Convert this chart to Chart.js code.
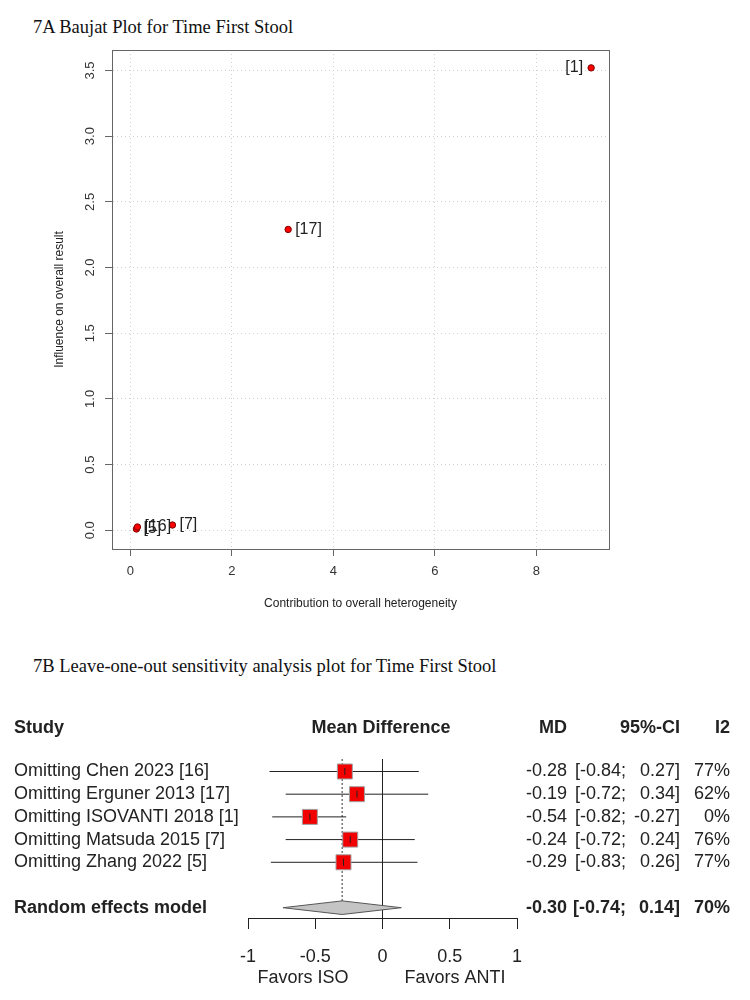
<!DOCTYPE html>
<html><head><meta charset="utf-8">
<script src="https://cdn.jsdelivr.net/npm/chart.js@4.4.1/dist/chart.umd.min.js"></script>
<style>
body{margin:0;background:#fff;width:750px;height:1000px;position:relative;overflow:hidden}
.title{position:absolute;left:33px;font-family:"Liberation Serif","Times New Roman",serif;font-size:18.5px;line-height:18px;color:#111;white-space:nowrap}
#c1{position:absolute;left:0;top:0}
#c2{position:absolute;left:0;top:640px}
</style></head><body>
<div class="title" style="top:18px">7A Baujat Plot for Time First Stool</div>
<canvas id="c1" width="750" height="620"></canvas>
<div class="title" style="top:657px">7B Leave-one-out sensitivity analysis plot for Time First Stool</div>
<canvas id="c2" width="750" height="360"></canvas>
<script>
// ---- 7A Baujat data ----
const baujatLabels = ["[1]", "[5]", "[7]", "[16]", "[17]"];
const baujatX = [9.08, 0.12, 0.83, 0.14, 3.11];
const baujatY = [3.52, 0.01, 0.04, 0.025, 2.29];
const baujatXTicks = [0, 2, 4, 6, 8];
const baujatYTicks = [0, 0.5, 1, 1.5, 2, 2.5, 3, 3.5];
const baujatYTickLabels = ["0.0", "0.5", "1.0", "1.5", "2.0", "2.5", "3.0", "3.5"];
const baujatXTitle = "Contribution to overall heterogeneity";
const baujatYTitle = "Influence on overall result";

// ---- 7B Leave-one-out data ----
const studies = ["Omitting Chen 2023 [16]", "Omitting Erguner 2013 [17]", "Omitting ISOVANTI 2018 [1]", "Omitting Matsuda 2015 [7]", "Omitting Zhang 2022 [5]"];
const md = [-0.28, -0.19, -0.54, -0.24, -0.29];
const ciLo = [-0.84, -0.72, -0.82, -0.72, -0.83];
const ciHi = [0.27, 0.34, -0.27, 0.24, 0.26];
const i2 = [77, 62, 0, 76, 77];
const reLabel = "Random effects model";
const reMd = -0.30, reLo = -0.74, reHi = 0.14, reI2 = 70;
const forestTicks = [-1, -0.5, 0, 0.5, 1];
const forestTickLabels = ["-1", "-0.5", "0", "0.5", "1"];
const forestHeaders = ["Study", "Mean Difference", "MD", "95%-CI", "I2"];
const favorsLeft = "Favors ISO", favorsRight = "Favors ANTI";

const FONT = "'Liberation Sans', Arial, sans-serif";

// ---------- Chart 1 ----------
const baujatDecor = {
  id: 'baujatDecor',
  afterDatasetsDraw(chart) {
    const {ctx, chartArea: a, scales: {x, y}} = chart;
    ctx.save();
    ctx.strokeStyle = '#666'; ctx.lineWidth = 1;
    ctx.strokeRect(Math.round(a.left) + 0.5, Math.round(a.top) + 0.5, Math.round(a.right - a.left), Math.round(a.bottom - a.top));
    // y tick labels (rotated, R style)
    ctx.fillStyle = '#333'; ctx.font = '13px ' + FONT;
    ctx.textAlign = 'center'; ctx.textBaseline = 'middle';
    baujatYTicks.forEach((v, i) => {
      ctx.save();
      ctx.translate(90, y.getPixelForValue(v));
      ctx.rotate(-Math.PI / 2);
      ctx.fillText(baujatYTickLabels[i], 0, 0);
      ctx.restore();
    });
    // axis titles
    ctx.fillStyle = '#222'; ctx.font = '12px ' + FONT;
    ctx.fillText(baujatXTitle, (a.left + a.right) / 2, 604);
    ctx.save();
    ctx.translate(60, (a.top + a.bottom) / 2);
    ctx.rotate(-Math.PI / 2);
    ctx.fillText(baujatYTitle, 0, 0);
    ctx.restore();
    // point labels
    ctx.font = '16px ' + FONT; ctx.fillStyle = '#222';
    baujatLabels.forEach((lab, i) => {
      const px = x.getPixelForValue(baujatX[i]), py = y.getPixelForValue(baujatY[i]);
      if (px > a.right - 40) { ctx.textAlign = 'right'; ctx.fillText(lab, px - 8, py); }
      else { ctx.textAlign = 'left'; ctx.fillText(lab, px + 7, py); }
    });
    ctx.restore();
  }
};

new Chart(document.getElementById('c1'), {
  type: 'scatter',
  data: {datasets: [{
    data: baujatX.map((v, i) => ({x: v, y: baujatY[i]})),
    pointRadius: 3.2, pointHoverRadius: 3.2,
    backgroundColor: '#ff0000', borderColor: '#7a0000', borderWidth: 1
  }]},
  options: {
    responsive: false, animation: false, devicePixelRatio: 1, events: [],
    layout: {padding: {left: 0, top: 50, right: 141, bottom: 0}},
    plugins: {legend: {display: false}, tooltip: {enabled: false}},
    scales: {
      x: {
        type: 'linear', min: -0.361, max: 9.432,
        afterBuildTicks: s => { s.ticks = baujatXTicks.map(v => ({value: v})); },
        afterFit: s => { s.height = 71; },
        grid: {color: '#d0d0d0', lineWidth: 1, drawTicks: true, tickLength: 7, tickColor: '#666', tickBorderDash: []},
        border: {display: true, color: '#666', width: 1, dash: [1, 3]},
        ticks: {font: {family: FONT, size: 13}, color: '#333', padding: 8, maxRotation: 0, minRotation: 0, callback: v => String(v)}
      },
      y: {
        type: 'linear', min: -0.1425, max: 3.656,
        afterBuildTicks: s => { s.ticks = baujatYTicks.map(v => ({value: v})); },
        afterFit: s => { s.width = 112; },
        grid: {color: '#d0d0d0', lineWidth: 1, drawTicks: true, tickLength: 7, tickColor: '#666', tickBorderDash: []},
        border: {display: true, color: '#666', width: 1, dash: [1, 3]},
        ticks: {display: false}
      }
    }
  },
  plugins: [baujatDecor]
});

// ---------- Chart 2 (forest) ----------
const reRow = studies.length + 2;
const headerRow = -0.9;
const ciData = [];
studies.forEach((s, i) => { ciData.push({x: ciLo[i], y: i + 1}, {x: ciHi[i], y: i + 1}, {x: ciHi[i], y: null}); });
const estData = md.map((m, i) => ({x: m, y: i + 1}));
const dh = 0.3;

const forestText = {
  id: 'forestText',
  afterDraw(chart) {
    const {ctx, scales: {x, y}} = chart;
    const f = () => '18px ' + FONT, fb = () => 'bold 18px ' + FONT;
    ctx.save();
    ctx.fillStyle = '#222'; ctx.textBaseline = 'middle';
    // headers
    const hy = y.getPixelForValue(headerRow);
    ctx.font = fb();
    ctx.textAlign = 'left'; ctx.fillText(forestHeaders[0], 14, hy);
    ctx.textAlign = 'center'; ctx.fillText(forestHeaders[1], 381, hy);
    ctx.textAlign = 'right';
    ctx.fillText(forestHeaders[2], 567, hy);
    ctx.fillText(forestHeaders[3], 680, hy);
    ctx.fillText(forestHeaders[4], 730, hy);
    const row = (label, m, lo, hi, het, ry, bold) => {
      ctx.font = bold ? fb() : f();
      ctx.textAlign = 'left'; ctx.fillText(label, 14, ry);
      ctx.textAlign = 'right';
      ctx.fillText(m.toFixed(2), 567, ry);
      ctx.fillText('[' + lo.toFixed(2) + ';', 626, ry);
      ctx.fillText(hi.toFixed(2) + ']', 680, ry);
      ctx.fillText(het + '%', 730, ry);
    };
    studies.forEach((s, i) => row(s, md[i], ciLo[i], ciHi[i], i2[i], y.getPixelForValue(i + 1), false));
    row(reLabel, reMd, reLo, reHi, reI2, y.getPixelForValue(reRow), true);
    // favors labels
    ctx.font = f(); ctx.textAlign = 'center';
    ctx.fillText(favorsLeft, 303, 338);
    ctx.fillText(favorsRight, 455, 338);
    ctx.restore();
  }
};

new Chart(document.getElementById('c2'), {
  type: 'line',
  data: {datasets: [
    {type: 'scatter', data: estData, pointStyle: 'line', rotation: 90, pointRadius: 3.5, pointHoverRadius: 3.5, borderColor: '#222', borderWidth: 1, order: 0},
    {type: 'scatter', data: estData, pointStyle: 'rect', pointRadius: 10.6, pointHoverRadius: 10.6, backgroundColor: '#f20000', borderColor: '#a0a0a0', borderWidth: 1, order: 1},
    {type: 'line', data: [{x: reLo, y: reRow}, {x: reMd, y: reRow - dh}, {x: reHi, y: reRow}, {x: reMd, y: reRow + dh}, {x: reLo, y: reRow}],
      fill: 'shape', backgroundColor: '#c4c4c4', borderColor: '#555', borderWidth: 1, pointRadius: 0, tension: 0, order: 2},
    {type: 'line', data: ciData, borderColor: '#222', borderWidth: 1, pointRadius: 0, spanGaps: false, tension: 0, order: 3},
    {type: 'line', data: [{x: reMd, y: 0.45}, {x: reMd, y: reRow - dh}], borderColor: '#333', borderWidth: 1, borderDash: [2, 2], pointRadius: 0, order: 4}
  ]},
  options: {
    responsive: false, animation: false, devicePixelRatio: 1, events: [],
    layout: {padding: {left: 248, top: 119, right: 233, bottom: 0}},
    plugins: {legend: {display: false}, tooltip: {enabled: false}},
    scales: {
      x: {
        type: 'linear', min: -1, max: 1,
        afterBuildTicks: s => { s.ticks = forestTicks.map(v => ({value: v})); },
        afterFit: s => { s.height = 82; },
        grid: {color: c => (c.tick && c.tick.value === 0) ? '#222' : 'rgba(0,0,0,0)', lineWidth: 1, drawTicks: true, tickLength: 11, tickColor: '#222'},
        border: {display: true, color: '#222', width: 1},
        ticks: {font: {family: FONT, size: 18}, color: '#222', padding: 17, maxRotation: 0, minRotation: 0, callback: (v, i) => forestTickLabels[i]}
      },
      y: {type: 'linear', min: 0.45, max: 7.454, reverse: true, display: false}
    }
  },
  plugins: [forestText]
});
</script>
</body></html>
